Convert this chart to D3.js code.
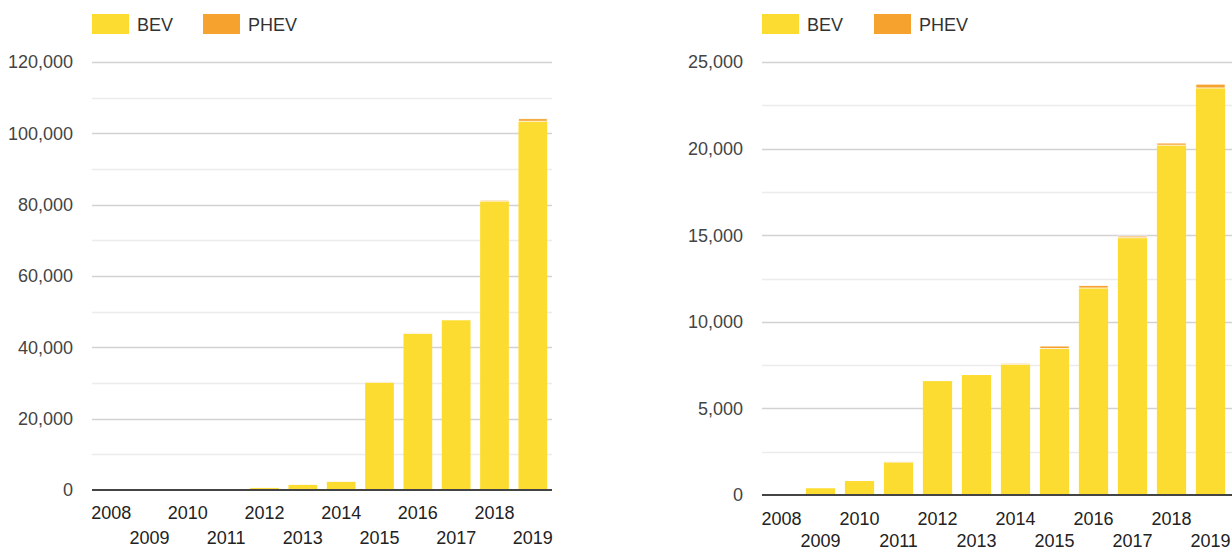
<!DOCTYPE html>
<html><head><meta charset="utf-8">
<script src="https://cdn.jsdelivr.net/npm/d3@7"></script>
<style>
html,body{margin:0;padding:0;background:#fff;}
svg{display:block;font-family:Arial,"Liberation Sans",Helvetica,sans-serif;}
</style></head>
<body>
<svg id="chart" width="1232" height="550"></svg>
<script>
const years = ["2008","2009","2010","2011","2012","2013","2014","2015","2016","2017","2018","2019"];
const seriesNames = ["BEV","PHEV"];
const seriesColors = ["#FDDC32","#F5A22F"];

// Left chart
const leftBEV  = [0, 0, 30, 80, 650, 1550, 2400, 30200, 43900, 47700, 81000, 103400];
const leftPHEV = [0, 0, 0, 0, 20, 30, 50, 100, 150, 200, 300, 700];
const leftTicks = [0, 20000, 40000, 60000, 80000, 100000, 120000];
const leftMinor = [10000, 30000, 50000, 70000, 90000, 110000];

// Right chart
const rightBEV  = [0, 390, 830, 1900, 6600, 6950, 7550, 8450, 11950, 14850, 20200, 23500];
const rightPHEV = [0, 0, 10, 20, 20, 30, 60, 150, 150, 100, 120, 220];
const rightTicks = [0, 5000, 10000, 15000, 20000, 25000];
const rightMinor = [2500, 7500, 12500, 17500, 22500];

const svg = d3.select("#chart");
const fmt = d3.format(",");

function drawChart(cfg){
  const g = svg.append("g");
  const x = d3.scaleBand().domain(years).range([cfg.x0, cfg.x1]).paddingInner(0.25).paddingOuter(0.125);
  const y = d3.scaleLinear().domain([0, cfg.max]).range([cfg.y0, cfg.y1]);

  // minor gridlines
  g.selectAll("line.minor").data(cfg.minor).join("line")
    .attr("x1", cfg.x0).attr("x2", cfg.gx1)
    .attr("y1", d => Math.round(y(d)) + 0.5).attr("y2", d => Math.round(y(d)) + 0.5)
    .attr("stroke", "#ececec").attr("stroke-width", 1.5);
  // major gridlines
  g.selectAll("line.major").data(cfg.ticks.filter(d => d > 0)).join("line")
    .attr("x1", cfg.x0).attr("x2", cfg.gx1)
    .attr("y1", d => Math.round(y(d)) + 0.5).attr("y2", d => Math.round(y(d)) + 0.5)
    .attr("stroke", "#d2d2d2").attr("stroke-width", 1.5);

  // y labels
  g.selectAll("text.ylab").data(cfg.ticks).join("text")
    .attr("x", cfg.labelX).attr("y", d => y(d)).attr("dy", "0.36em")
    .attr("text-anchor", "end").attr("font-size", 18).attr("fill", "#444")
    .text(d => fmt(d));

  // stacked bars
  const rows = years.map((yr, i) => ({year: yr, BEV: cfg.bev[i], PHEV: cfg.phev[i]}));
  const stack = d3.stack().keys(seriesNames)(rows);
  stack.forEach((layer, li) => {
    g.append("g").selectAll("rect").data(layer).join("rect")
      .attr("x", d => x(d.data.year))
      .attr("width", x.bandwidth())
      .attr("y", d => y(d[1]))
      .attr("height", d => Math.max(0, y(d[0]) - y(d[1])))
      .attr("fill", seriesColors[li])
      .attr("stroke", li === 1 ? "#fff" : "none")
      .attr("stroke-width", li === 1 ? 0.8 : 0);
  });

  // baseline
  g.append("line").attr("x1", cfg.x0).attr("x2", cfg.gx1)
    .attr("y1", y(0)).attr("y2", y(0))
    .attr("stroke", "#444").attr("stroke-width", 2);

  // x labels (staggered)
  g.selectAll("text.xlab").data(years).join("text")
    .attr("x", d => x(d) + x.bandwidth() / 2)
    .attr("y", (d, i) => y(0) + (i % 2 === 0 ? cfg.row1 : cfg.row2))
    .attr("text-anchor", "middle").attr("font-size", 18).attr("fill", "#222")
    .text(d => d);

  // legend
  const lg = g.append("g");
  const items = [{name: seriesNames[0], col: seriesColors[0], sx: cfg.legX[0]},
                 {name: seriesNames[1], col: seriesColors[1], sx: cfg.legX[1]}];
  items.forEach(it => {
    lg.append("rect").attr("x", it.sx).attr("y", 14).attr("width", 37).attr("height", 20).attr("fill", it.col);
    lg.append("text").attr("x", it.sx + 45).attr("y", 30.5).attr("font-size", 18).attr("fill", "#333").text(it.name);
  });
}

drawChart({x0: 92, x1: 552, gx1: 552, y0: 490, y1: 62, max: 120000,
  ticks: leftTicks, minor: leftMinor, bev: leftBEV, phev: leftPHEV,
  labelX: 73, row1: 29, row2: 54, legX: [92, 203]});

drawChart({x0: 762, x1: 1230, gx1: 1232, y0: 495, y1: 62, max: 25000,
  ticks: rightTicks, minor: rightMinor, bev: rightBEV, phev: rightPHEV,
  labelX: 743, row1: 30, row2: 52, legX: [762, 874]});
</script>
</body></html>
